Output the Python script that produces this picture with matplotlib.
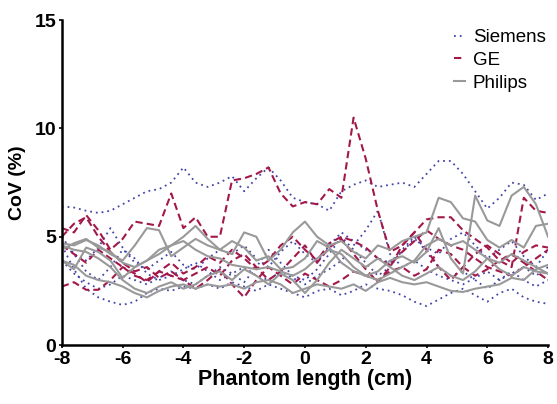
import numpy as np
import matplotlib.pyplot as plt

plt.rcParams['font.family'] = ['Liberation Sans', 'DejaVu Sans']
plt.rcParams['axes.unicode_minus'] = False

x = [-8.0, -7.6, -7.2, -6.8, -6.4, -6.0, -5.6, -5.2, -4.8, -4.4, -4.0, -3.6, -3.2, -2.8,
     -2.4, -2.0, -1.6, -1.2, -0.8, -0.4, 0.0, 0.4, 0.8, 1.2, 1.6, 2.0, 2.4, 2.8, 3.2, 3.6,
     4.0, 4.4, 4.8, 5.2, 5.6, 6.0, 6.4, 6.8, 7.2, 7.6, 8.0]

siemens = [
    [6.4, 6.35, 6.2, 6.1, 6.2, 6.5, 6.8, 7.1, 7.2, 7.5, 8.2, 7.5, 7.3, 7.5, 7.8, 7.1, 7.7, 8.2, 7.6, 6.8,
     6.6, 6.5, 6.2, 7.1, 7.4, 7.6, 7.3, 7.4, 7.5, 7.3, 7.9, 8.5, 8.5, 7.9, 7.1, 6.3, 6.8, 7.5, 7.4, 6.7, 7.0],
    [4.6, 3.5, 2.6, 2.2, 2.0, 1.85, 2.0, 2.4, 2.6, 2.5, 2.7, 2.6, 2.8, 2.6, 2.9, 2.7, 2.5, 2.8, 2.6, 2.4,
     2.2, 2.5, 2.6, 2.3, 2.5, 2.8, 2.6, 2.5, 2.3, 2.0, 1.8, 2.1, 2.4, 2.6, 2.3, 2.0, 2.4, 2.6, 2.2, 2.0, 1.9],
    [5.0, 4.2, 3.4, 3.0, 3.6, 4.4, 4.0, 3.3, 3.0, 3.2, 3.5, 3.8, 3.4, 3.0, 3.3, 3.6, 3.2, 3.0, 3.4, 3.1,
     2.8, 3.2, 3.5, 3.9, 4.6, 5.3, 6.2, 4.2, 3.6, 3.9, 3.5, 3.2, 3.0, 2.8, 3.1, 3.4, 3.0, 3.3, 3.6, 3.2, 3.6],
    [4.7, 4.2, 3.9, 4.5, 5.4, 4.5, 3.8, 3.5, 3.9, 4.3, 3.7, 3.5, 4.0, 4.4, 4.2, 4.6, 4.0, 3.6, 4.3, 4.8,
     4.2, 3.8, 4.6, 5.2, 4.8, 4.4, 4.0, 3.8, 4.3, 4.9, 4.5, 4.2, 4.9, 5.2, 4.6, 4.0, 4.4, 4.8, 4.1, 3.6, 4.4],
    [3.9, 3.3, 2.9, 2.6, 2.8, 3.2, 3.0, 2.8, 3.1, 3.4, 3.0, 2.8, 3.2, 3.6, 3.3, 2.9, 3.6, 4.4, 3.8, 3.2,
     3.0, 3.5, 4.2, 5.0, 4.4, 3.8, 3.2, 3.6, 4.4, 5.0, 4.3, 3.6, 3.2, 3.4, 3.0, 2.6, 3.0, 3.4, 3.0, 2.7, 3.0],
]

ge = [
    [5.4, 5.2, 6.0, 5.3, 4.4, 4.9, 5.7, 5.6, 5.5, 7.0, 5.4, 5.9, 5.0, 5.0, 7.6, 7.7, 7.9, 8.2, 7.0, 6.4,
     6.6, 6.5, 7.2, 6.8, 10.5, 8.6, 6.2, 4.3, 4.6, 5.2, 5.8, 5.9, 5.9, 5.3, 4.9, 4.5, 3.9, 3.6, 6.8, 6.2, 6.1],
    [2.7, 2.9, 2.55, 2.55, 3.0, 3.6, 3.3, 2.9, 3.4, 3.2, 3.0, 2.6, 3.0, 3.5, 2.8, 2.2, 3.0, 3.6, 3.2, 2.8,
     3.3, 3.0, 2.7, 3.0, 3.4, 3.2, 3.0, 3.4, 3.6, 3.2, 3.5, 4.4, 4.2, 3.6, 3.2, 3.5, 3.9, 4.2, 3.8, 3.4, 3.0],
    [5.0, 5.6, 5.9, 5.0, 4.3, 3.8, 3.4, 3.6, 3.1, 3.4, 3.0, 3.3, 3.6, 3.2, 3.9, 4.2, 3.6, 3.0, 3.4, 4.0,
     4.6, 3.8, 4.5, 4.9, 4.2, 3.5, 2.9, 3.6, 4.6, 5.2, 4.4, 3.6, 3.0, 3.6, 4.2, 4.6, 4.2, 3.8, 4.3, 4.6, 4.5],
    [4.6, 4.2, 3.8, 4.4, 4.0, 3.6, 3.2, 3.0, 3.4, 3.8, 3.3, 3.6, 4.1, 3.8, 4.4, 4.0, 3.5, 3.9, 4.6, 5.0,
     4.4, 3.9, 4.7, 5.0, 4.8, 4.5, 4.0, 3.7, 4.3, 4.8, 5.3, 4.9, 4.6, 4.4, 4.0, 3.6, 3.4, 3.2, 3.6, 4.0, 4.4],
]

philips = [
    [4.7, 4.6, 4.85, 4.6, 4.2, 3.9, 4.6, 5.4, 5.3, 4.1, 4.5, 4.9, 4.6, 4.4, 4.2, 5.2, 5.0, 3.9, 4.4, 5.2,
     5.7, 5.0, 4.6, 4.8, 4.3, 4.0, 4.6, 4.4, 4.8, 5.0, 5.2, 6.8, 6.6, 5.85, 5.7, 4.85, 4.5, 4.85, 4.5, 5.5, 5.6],
    [3.9, 3.5, 4.5, 4.3, 3.9, 3.1, 3.6, 3.9, 4.4, 4.6, 5.0, 5.5, 4.9, 4.4, 4.8, 4.5, 3.9, 4.1, 3.5, 3.6,
     4.0, 4.8, 4.5, 3.8, 3.4, 3.2, 3.4, 3.9, 4.1, 3.8, 4.3, 5.4, 4.0, 3.3, 6.9, 5.75, 5.5, 6.9, 7.3, 6.5, 5.0],
    [4.6, 4.4, 4.3, 4.0, 3.6, 3.0, 2.6, 2.4, 2.7, 2.9, 2.6, 2.8, 3.2, 3.4, 3.0, 3.5, 3.2, 2.8, 3.3, 3.0,
     2.4, 3.0, 3.8, 4.4, 4.0, 3.6, 4.0, 3.6, 3.2, 3.0, 3.3, 3.6, 3.2, 3.0, 3.4, 4.0, 3.5, 3.2, 3.6, 3.4, 3.3],
    [3.9, 3.7, 3.2, 3.0, 2.9, 2.7, 2.4, 2.2, 2.5, 2.7, 2.8, 2.6, 2.8, 2.7, 2.8, 2.6, 2.9, 3.0, 2.8, 2.4,
     2.6, 2.8, 2.7, 2.6, 2.8, 2.5, 2.9, 3.1, 2.9, 2.8, 2.9, 2.7, 2.5, 2.45, 2.6, 2.7, 2.8, 3.1, 3.0, 3.5, 3.7],
    [4.4, 4.7, 4.9, 4.5, 4.3, 3.8, 3.6, 3.9, 4.2, 4.6, 4.8, 4.4, 4.1, 4.0, 3.7, 3.6, 3.5, 3.6, 3.4, 3.2,
     3.5, 4.0, 4.4, 4.2, 3.6, 3.2, 3.0, 3.3, 3.6, 3.9, 4.6, 4.9, 4.6, 4.8, 4.4, 4.0, 3.8, 4.2, 3.9, 3.6, 3.3],
]

fig = plt.figure(figsize=(5.57, 4.04), dpi=100)
ax = fig.add_axes([0.111, 0.146, 0.873, 0.804])

for i, y in enumerate(siemens):
    ax.plot(x, y, color='#4345a8', linestyle=(0, (1, 2.2)), lw=1.3,
            label='Siemens' if i == 0 else None)
for i, y in enumerate(ge):
    ax.plot(x, y, color='#a3184a', linestyle=(0, (3.5, 2)), lw=1.5,
            label='GE' if i == 0 else None)
for i, y in enumerate(philips):
    ax.plot(x, y, color='#999999', linestyle='-', lw=1.5,
            label='Philips' if i == 0 else None)

ax.set_xlim(-8, 8)
ax.set_ylim(0, 15)
ax.set_xticks([-8, -6, -4, -2, 0, 2, 4, 6, 8])
ax.set_yticks([0, 5, 10, 15])
for s in ['top', 'right']:
    ax.spines[s].set_visible(False)
for s in ['left', 'bottom']:
    ax.spines[s].set_linewidth(1.8)
ax.tick_params(width=1.2, length=2.5, pad=1.5, labelsize=14)
for lbl in ax.get_xticklabels() + ax.get_yticklabels():
    lbl.set_fontweight('bold')
ax.set_xlabel('Phantom length (cm)', fontsize=15.5, fontweight='bold', labelpad=1)
ax.set_ylabel('CoV (%)', fontsize=14, fontweight='bold', labelpad=6)

ax.legend(loc='upper right', bbox_to_anchor=(1.03, 1.025), frameon=False, fontsize=13.5,
          handlelength=0.6, handletextpad=0.4, labelspacing=0.3)

fig.savefig('out.png', dpi=100)
